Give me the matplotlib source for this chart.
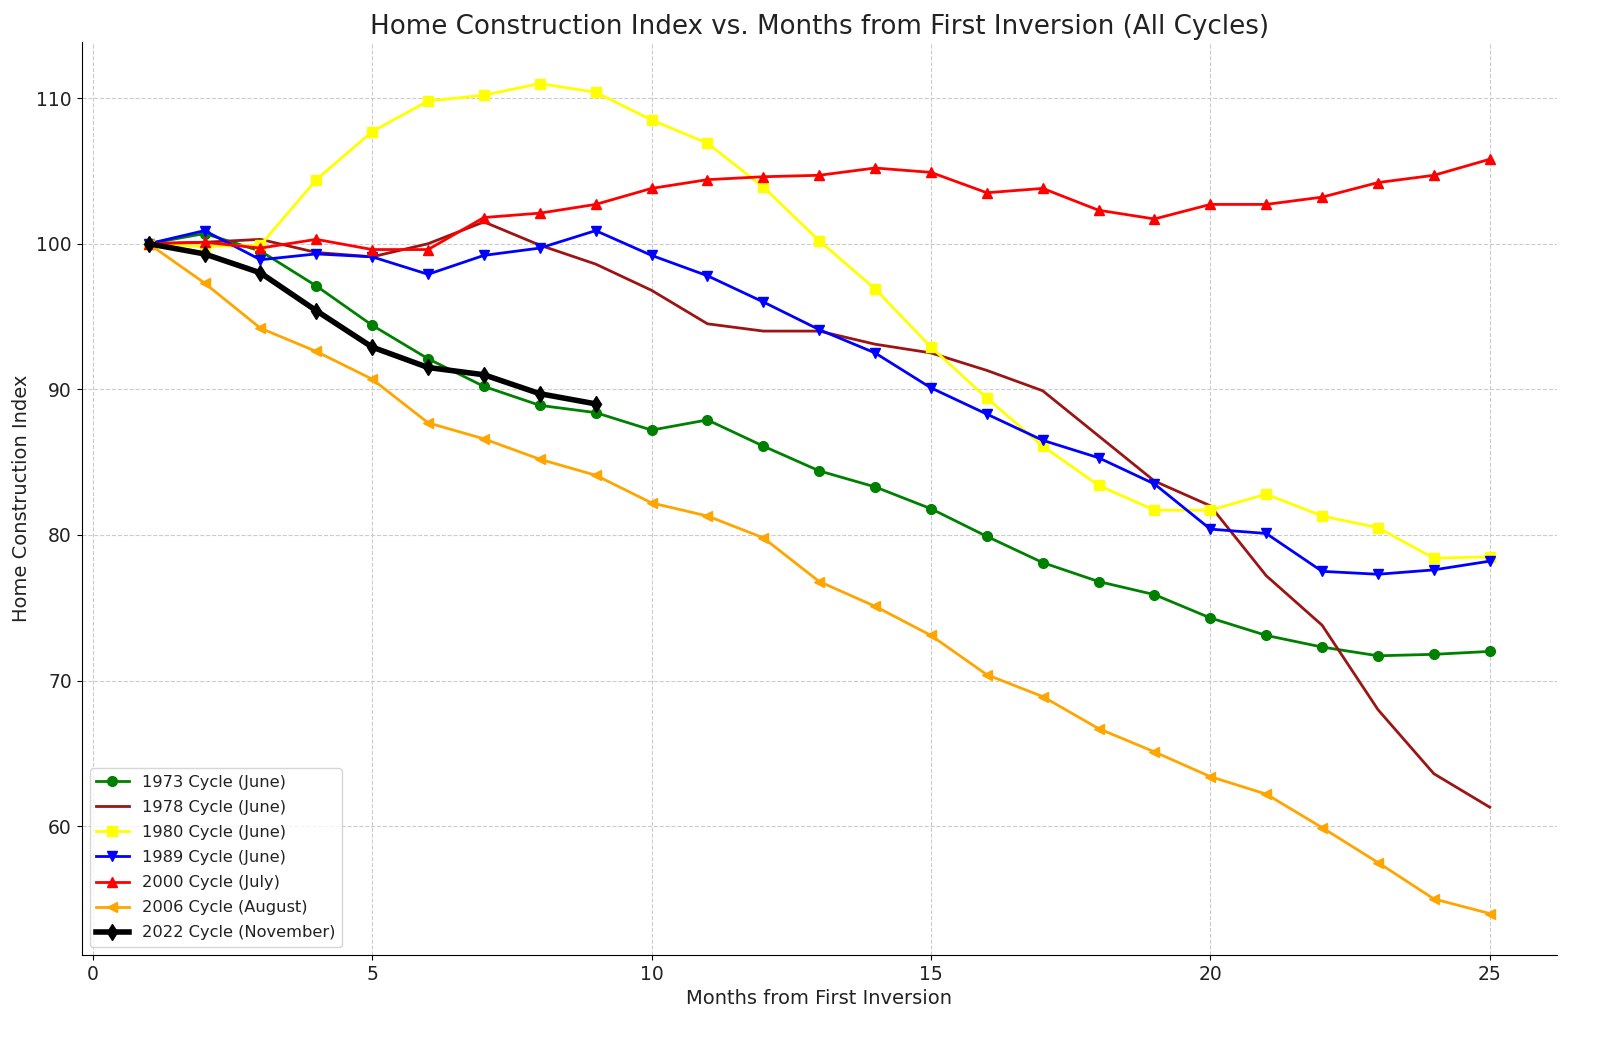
import numpy as np
import matplotlib
matplotlib.use('Agg')
import matplotlib.pyplot as plt

months = list(range(1, 26))

c1973 = [100, 100.7, 99.5, 97.1, 94.4, 92.1, 90.2, 88.9, 88.4, 87.2, 87.9, 86.1, 84.4, 83.3, 81.8,
         79.9, 78.1, 76.8, 75.9, 74.3, 73.1, 72.3, 71.7, 71.8, 72.0]
c1978 = [100, 100.1, 100.3, 99.4, 99.1, 100.0, 101.5, 99.9, 98.6, 96.8, 94.5, 94.0, 94.0, 93.1, 92.5,
         91.3, 89.9, 86.8, 83.7, 82.0, 77.2, 73.8, 68.0, 63.6, 61.3]
c1980 = [100, 99.8, 99.9, 104.4, 107.7, 109.8, 110.2, 111.0, 110.4, 108.5, 106.9, 103.9, 100.2, 96.9, 92.9,
         89.4, 86.1, 83.4, 81.7, 81.7, 82.8, 81.3, 80.5, 78.4, 78.5]
c1989 = [100, 100.9, 98.9, 99.3, 99.1, 97.9, 99.2, 99.7, 100.9, 99.2, 97.8, 96.0, 94.1, 92.5, 90.1,
         88.3, 86.5, 85.3, 83.5, 80.4, 80.1, 77.5, 77.3, 77.6, 78.2]
c2000 = [100, 100.1, 99.7, 100.3, 99.6, 99.6, 101.8, 102.1, 102.7, 103.8, 104.4, 104.6, 104.7, 105.2, 104.9,
         103.5, 103.8, 102.3, 101.7, 102.7, 102.7, 103.2, 104.2, 104.7, 105.8]
c2006 = [100, 97.3, 94.2, 92.6, 90.7, 87.7, 86.6, 85.2, 84.1, 82.2, 81.3, 79.8, 76.8, 75.1, 73.1,
         70.4, 68.9, 66.7, 65.1, 63.4, 62.2, 59.9, 57.5, 55.0, 54.0]
c2022 = [100, 99.3, 98.0, 95.4, 92.9, 91.5, 91.0, 89.7, 89.0]

fig = plt.figure(figsize=(16, 10.41), dpi=100)
ax = fig.add_axes([0.051, 0.0826, 0.922, 0.877])

ax.plot(months, c1973, color='green', marker='o', lw=2, ms=7, label='1973 Cycle (June)')
ax.plot(months, c1978, color='#9b1515', lw=2, label='1978 Cycle (June)')
ax.plot(months, c1980, color='yellow', marker='s', lw=2, ms=7, label='1980 Cycle (June)')
ax.plot(months, c1989, color='blue', marker='v', lw=2, ms=7, label='1989 Cycle (June)')
ax.plot(months, c2000, color='red', marker='^', lw=2, ms=7, label='2000 Cycle (July)')
ax.plot(months, c2006, color='orange', marker='<', lw=2, ms=7, label='2006 Cycle (August)')
ax.plot(months[:len(c2022)], c2022, color='black', marker='d', lw=4, ms=8, label='2022 Cycle (November)')

ax.set_title('Home Construction Index vs. Months from First Inversion (All Cycles)', fontsize=18.8, color='#222222')
ax.set_xlabel('Months from First Inversion', fontsize=14, color='#222222')
ax.set_ylabel('Home Construction Index', fontsize=14, color='#222222')
ax.tick_params(labelsize=13.5, labelcolor='#222222')
ax.grid(True, linestyle='--', color='#cccccc', lw=0.8)
ax.spines['top'].set_visible(False)
ax.spines['right'].set_visible(False)
ax.legend(loc='lower left', fontsize=11.7, labelcolor='#222222', labelspacing=0.62)

fig.savefig('out.png', dpi=100)
